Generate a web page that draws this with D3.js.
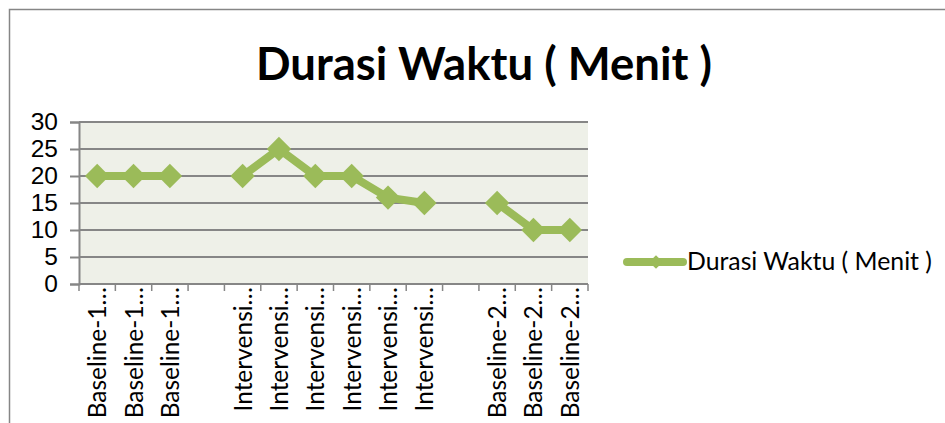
<!DOCTYPE html>
<html>
<head>
<meta charset="utf-8">
<script src="https://cdn.jsdelivr.net/npm/d3@7"></script>
<style>
  html, body { margin: 0; padding: 0; background: #fff; }
  svg { display: block; font-family: Lato, "Open Sans", sans-serif; }
</style>
</head>
<body>
<svg id="chart"></svg>
<script>
const width = 945;
const height = 423;

// data (empty label = gap column)
const categories = [
  'Baseline-1…', 'Baseline-1…', 'Baseline-1…', '',
  'Intervensi…', 'Intervensi…', 'Intervensi…', 'Intervensi…', 'Intervensi…', 'Intervensi…', '',
  'Baseline-2…', 'Baseline-2…', 'Baseline-2…',
];
const durasi = [20, 20, 20, null, 20, 25, 20, 20, 16, 15, null, 15, 10, 10];
const yTicks = [0, 5, 10, 15, 20, 25, 30];
const seriesName = 'Durasi Waktu ( Menit )';

const green = '#9bbb59';
const plot = { left: 79, right: 588, top: 122, bottom: 284 };

const svg = d3.select('#chart')
  .attr('width', width)
  .attr('height', height);

// outer frame
svg.append('rect')
  .attr('x', 9.5).attr('y', 9.5)
  .attr('width', width + 20).attr('height', height + 20)
  .attr('fill', '#fff')
  .attr('stroke', '#868686')
  .attr('stroke-width', 1.5);

// title
svg.append('text')
  .attr('x', 484)
  .attr('y', 80)
  .attr('text-anchor', 'middle')
  .attr('font-size', 45.5)
  .attr('font-weight', 'bold')
  .text(seriesName);

const idx = d3.range(categories.length);
const x = d3.scaleBand()
  .domain(idx)
  .range([plot.left, plot.right]);
const y = d3.scaleLinear()
  .domain([0, 30])
  .range([plot.bottom, plot.top]);

// plot background
svg.append('rect')
  .attr('x', plot.left).attr('y', plot.top)
  .attr('width', plot.right - plot.left)
  .attr('height', plot.bottom - plot.top)
  .attr('fill', '#eef0e8');

// ===========================================================================
//      axes
// ===========================================================================
const yAxis = svg.append('g')
  .attr('transform', `translate(${plot.left},0)`)
  .call(d3.axisLeft(y).tickValues(yTicks).tickSize(9).tickPadding(12));
yAxis.select('.domain').attr('stroke', '#868686').attr('stroke-width', 2);
yAxis.selectAll('.tick line').attr('stroke', '#868686').attr('stroke-width', 2);
yAxis.selectAll('.tick text')
  .attr('font-size', 24.5)
  .attr('font-family', 'inherit')
  .attr('fill', '#000');

// gridlines
svg.append('g')
  .selectAll('line')
  .data(yTicks)
  .enter()
  .append('line')
  .attr('x1', plot.left).attr('x2', plot.right)
  .attr('y1', d => y(d)).attr('y2', d => y(d))
  .attr('stroke', '#868686')
  .attr('stroke-width', 2);

// category ticks sit between columns
const boundaries = d3.range(categories.length + 1)
  .map(i => plot.left + i * x.step());
svg.append('g')
  .selectAll('line')
  .data(boundaries)
  .enter()
  .append('line')
  .attr('x1', d => d).attr('x2', d => d)
  .attr('y1', plot.bottom).attr('y2', plot.bottom + 7)
  .attr('stroke', '#868686')
  .attr('stroke-width', 1.5);

svg.append('g')
  .selectAll('text')
  .data(idx.filter(i => categories[i] !== ''))
  .enter()
  .append('text')
  .attr('transform', i => `translate(${x(i) + x.bandwidth() / 2 + 9},${plot.bottom + 3}) rotate(-90)`)
  .attr('text-anchor', 'end')
  .attr('font-size', 24.5)
  .text(i => categories[i]);

// ===========================================================================
//      series
// ===========================================================================
const cx = i => x(i) + x.bandwidth() / 2;
const line = d3.line()
  .defined(i => durasi[i] != null)
  .x(cx)
  .y(i => y(durasi[i]));

svg.append('path')
  .attr('d', line(idx))
  .attr('fill', 'none')
  .attr('stroke', green)
  .attr('stroke-width', 8)
  .attr('stroke-linejoin', 'round');

const diamond = d3.symbol().type(d3.symbolDiamond2).size(380);
svg.append('g')
  .selectAll('path')
  .data(idx.filter(i => durasi[i] != null))
  .enter()
  .append('path')
  .attr('transform', i => `translate(${cx(i)},${y(durasi[i])})`)
  .attr('d', diamond)
  .attr('fill', green);

// legend
const legend = svg.append('g').attr('transform', 'translate(627,262)');
legend.append('line')
  .attr('x1', 0).attr('x2', 56)
  .attr('stroke', green)
  .attr('stroke-width', 8)
  .attr('stroke-linecap', 'round');
legend.append('path')
  .attr('transform', 'translate(29,0)')
  .attr('d', d3.symbol().type(d3.symbolDiamond2).size(120))
  .attr('fill', green);
legend.append('text')
  .attr('x', 60)
  .attr('y', 8)
  .attr('font-size', 24.8)
  .text(seriesName);
</script>
</body>
</html>
